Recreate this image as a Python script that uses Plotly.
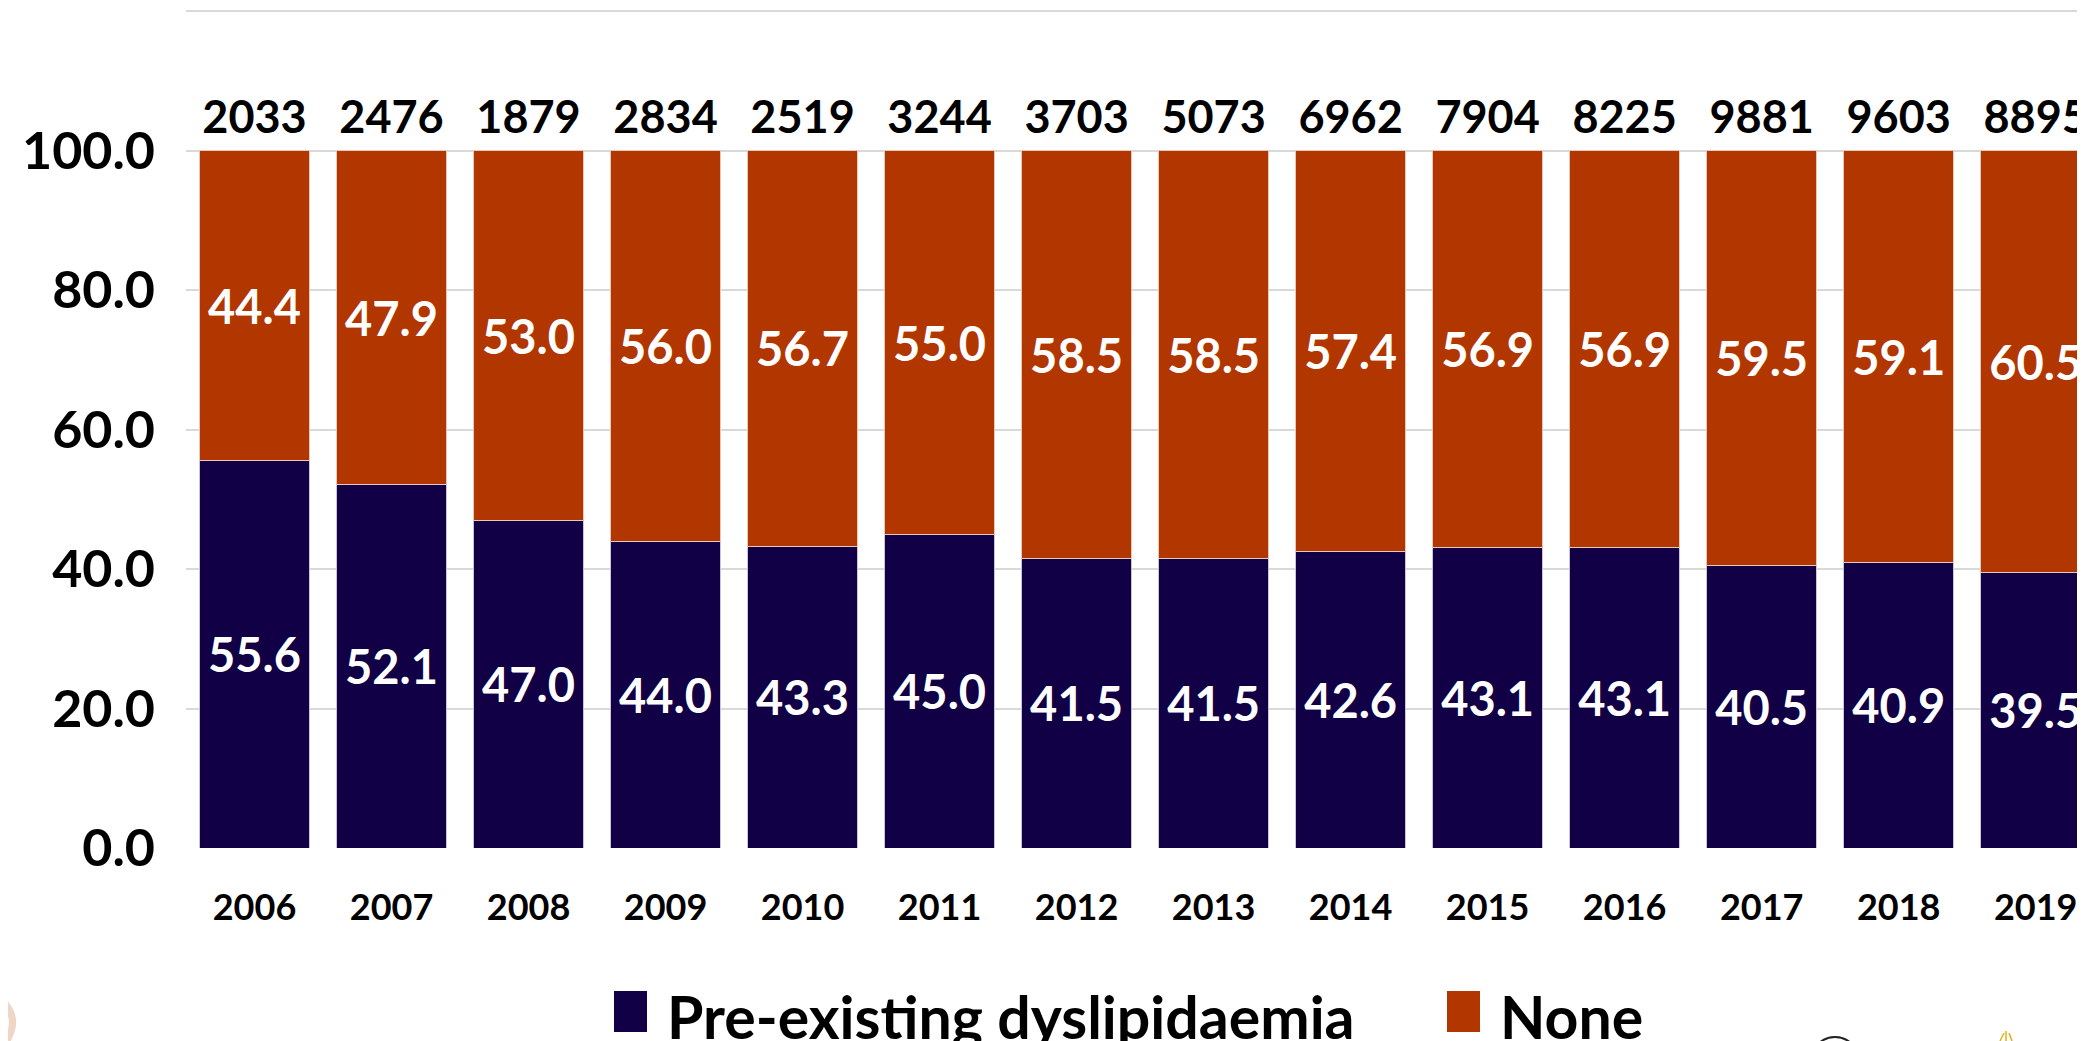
import plotly.graph_objects as go

# data
YEARS = ["2006", "2007", "2008", "2009", "2010", "2011", "2012",
         "2013", "2014", "2015", "2016", "2017", "2018", "2019"]
DYSLIPIDAEMIA = [55.6, 52.1, 47.0, 44.0, 43.3, 45.0, 41.5, 41.5, 42.6, 43.1, 43.1, 40.5, 40.9, 39.5]
NONE = [44.4, 47.9, 53.0, 56.0, 56.7, 55.0, 58.5, 58.5, 57.4, 56.9, 56.9, 59.5, 59.1, 60.5]
TOTALS = [2033, 2476, 1879, 2834, 2519, 3244, 3703, 5073, 6962, 7904, 8225, 9881, 9603, 8895]
Y_TICKS = [0, 20, 40, 60, 80, 100, 120]
Y_TICK_TEXT = ["0.0", "20.0", "40.0", "60.0", "80.0", "100.0", ""]
SERIES_NAMES = ["Pre-existing dyslipidaemia", "None"]

NAVY = "#120046"
RUST = "#B23600"
FONT = "Lato, Carlito, Calibri, sans-serif"

# the page body has an 8px margin, so the figure is sized to end at the window edge
OFF = 8
W, H = 2085 - OFF, 1041 - OFF
ML, MR, MT, MB = 186 - OFF, 0, 10 - OFF, 193


def px_x(p):
    # window pixel -> paper x
    return (p - OFF - ML) / (W - ML - MR)


def px_y(p):
    # window pixel -> paper y
    return (OFF + H - MB - p) / (H - MB - MT)


fig = go.Figure()

fig.add_trace(go.Bar(
    x=YEARS,
    y=DYSLIPIDAEMIA,
    name=SERIES_NAMES[0],
    marker=dict(color=NAVY, line=dict(color="#C9C4DA", width=1)),
    text=[f"{v:.1f}" for v in DYSLIPIDAEMIA],
    textposition="inside",
    insidetextanchor="middle",
    constraintext="none",
    textfont=dict(color="white", size=47, family=FONT, weight="bold"),
    showlegend=False,
))

fig.add_trace(go.Bar(
    x=YEARS,
    y=NONE,
    name=SERIES_NAMES[1],
    marker=dict(color=RUST, line=dict(color="#E8C8B8", width=1)),
    text=[f"{v:.1f}" for v in NONE],
    textposition="inside",
    insidetextanchor="middle",
    constraintext="none",
    textfont=dict(color="white", size=47, family=FONT, weight="bold"),
    showlegend=False,
))

# sample sizes above each bar
fig.add_trace(go.Scatter(
    x=YEARS,
    y=[104.2] * len(YEARS),
    mode="text",
    text=[str(t) for t in TOTALS],
    textposition="middle center",
    textfont=dict(color="black", size=45, family=FONT, weight="bold"),
    showlegend=False,
    hoverinfo="skip",
    cliponaxis=False,
))

# legend drawn by hand so the swatches can be as big as in the original
legend_items = [
    (SERIES_NAMES[0], NAVY, 614, 665),
    (SERIES_NAMES[1], RUST, 1447, 1498),
]
shapes = []
annotations = []
for name, color, sq_x, tx_x in legend_items:
    shapes.append(dict(
        type="rect", xref="paper", yref="paper",
        x0=px_x(sq_x), x1=px_x(sq_x + 33),
        y0=px_y(1032), y1=px_y(991),
        fillcolor=color, line=dict(width=0),
    ))
    annotations.append(dict(
        text=name, xref="paper", yref="paper",
        x=px_x(tx_x), y=px_y(1016),
        xanchor="left", yanchor="middle", showarrow=False,
        font=dict(size=59, family=FONT, color="black", weight="bold"),
    ))

# fragments of logos at the bottom edge of the original slide
shapes.append(dict(
    type="path", xref="paper", yref="paper",
    path=(f"M {px_x(2)},{px_y(1000)} Q {px_x(22)},{px_y(1020)} {px_x(4)},{px_y(1045)}"),
    line=dict(color="#EFD6C6", width=7),
))
shapes.append(dict(
    type="circle", xref="paper", yref="paper",
    x0=px_x(1808), x1=px_x(1862), y0=px_y(1100), y1=px_y(1037),
    line=dict(color="#222222", width=2),
))
shapes.append(dict(
    type="path", xref="paper", yref="paper",
    path=(f"M {px_x(2000)},{px_y(1041)} L {px_x(2004)},{px_y(1033)} "
          f"M {px_x(2006)},{px_y(1041)} L {px_x(2006)},{px_y(1031)} "
          f"M {px_x(2012)},{px_y(1041)} L {px_x(2009)},{px_y(1033)}"),
    line=dict(color="#E0B020", width=1.5),
))

fig.update_layout(
    barmode="stack",
    bargap=0.2,
    width=W,
    height=H,
    plot_bgcolor="white",
    paper_bgcolor="white",
    font=dict(family=FONT, color="black"),
    margin=dict(l=ML, r=MR, t=MT, b=MB, autoexpand=False),
    showlegend=False,
    xaxis=dict(
        range=[-0.5, 13.36],
        showgrid=False,
        showline=False,
        ticks="",
        tickfont=dict(size=36, family=FONT, weight="bold"),
        ticklabelstandoff=35,
    ),
    yaxis=dict(
        range=[0, 120.2],
        tickvals=Y_TICKS,
        ticktext=Y_TICK_TEXT,
        showgrid=True,
        gridcolor="#D9D9D9",
        gridwidth=2,
        zeroline=False,
        showline=False,
        ticks="",
        tickfont=dict(size=52, family=FONT, weight="bold"),
        ticklabelstandoff=30,
    ),
    shapes=shapes,
    annotations=annotations,
)

fig.write_html("out.html")
